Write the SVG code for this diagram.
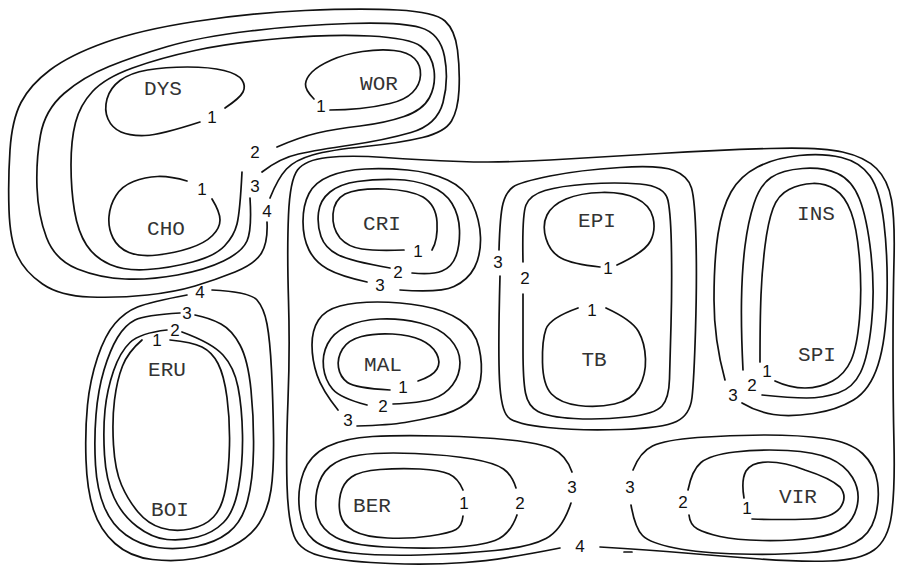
<svg xmlns="http://www.w3.org/2000/svg" width="899" height="566" viewBox="0 0 899 566">
<style>
.c{fill:none;stroke:#111;stroke-width:1.7;stroke-linecap:round;stroke-linejoin:round}
.n{font-family:"Liberation Mono","DejaVu Sans Mono",monospace;font-size:21px;fill:#333;text-anchor:middle;dominant-baseline:central}
.d{font-family:"Liberation Sans","DejaVu Sans",sans-serif;font-size:17px;fill:#111;text-anchor:middle;dominant-baseline:central}
</style>
<rect width="899" height="566" fill="#fff"/>
<g id="contours">
 <g id="cluster-top-left">
  <path class="c" d="M225,108 Q240,98 243,92 Q246,86 242,80 Q238,74 224,70.5 Q210,67 187.5,67 Q165,67 147.5,70 Q130,73 120,80.5 Q110,88 107,99 Q104,110 108,119 Q112,128 121,132 Q130,136 145,135.5 Q160,135 200,122"/>
  <path class="c" d="M314,99 Q305,90 305.5,84 Q306,78 312,72 Q318,66 331.5,60 Q345,54 362.5,51.5 Q380,49 394,50.5 Q408,52 414.5,58.5 Q421,65 420.5,75 Q420,85 412.5,92.5 Q405,100 390,103.5 Q375,107 360,108.5 Q345,110 330,110"/>
  <path class="c" d="M187,181 Q170,176 157.5,176.5 Q145,177 133.5,181.5 Q122,186 116,195.5 Q110,205 109,216.5 Q108,228 113,238 Q118,248 129,252.5 Q140,257 157.5,255 Q175,253 190,248 Q205,243 212.5,235.5 Q220,228 220,220 Q220,212 212,199"/>
  <path class="c" d="M242,172 Q240,212 237,224 Q234,236 224.5,246 Q215,256 192.5,262 Q170,268 147.5,269.5 Q125,271 110,264.5 Q95,258 86.5,245 Q78,232 74.5,211 Q71,190 71,165 Q71,140 75.5,122.5 Q80,105 92.5,91.5 Q105,78 132.5,68 Q160,58 195,50.5 Q230,43 280,38.5 Q330,34 370,36 Q410,38 421,46.5 Q432,55 434,70 Q436,85 429.5,97.5 Q423,110 404,116.5 Q385,123 360,126 Q335,129 317.5,133 Q300,137 277,147"/>
  <path class="c" d="M250,198 Q252,230 247,241 Q242,252 223.5,261 Q205,270 177.5,275 Q150,280 125,279 Q100,278 77.5,269 Q55,260 46.5,237.5 Q38,215 37,187.5 Q36,160 40.5,135 Q45,110 64,93.5 Q83,77 109,66.5 Q135,56 167.5,46.5 Q200,37 250,31 Q300,25 350,23.5 Q400,22 420,27.5 Q440,33 444.5,56.5 Q449,80 443,102.5 Q437,125 411,132.5 Q385,140 351,145 Q317,150 298.5,154 Q280,158 262,172"/>
  <path class="c" d="M267,222 Q268,242 261.5,253 Q255,264 235,272 Q215,280 195,286 Q175,292 147.5,295 Q120,298 90,297 Q60,296 42.5,284 Q25,272 17.5,256 Q10,240 9,210 Q8,180 10,150 Q12,120 21,102.5 Q30,85 50,70 Q70,55 105,42.5 Q140,30 195,21.5 Q250,13 305,10.5 Q360,8 397.5,10 Q435,12 445,21 Q455,30 457.5,50 Q460,70 459,90 Q458,110 451.5,121 Q445,132 422.5,137.5 Q400,143 365,146.5 Q330,150 312.5,155 Q295,160 286.5,169 Q278,178 270,198"/>
 </g>
 <g id="cluster-eru-boi">
  <path class="c" d="M142,340 Q128,352 122.5,366 Q117,380 114.5,400 Q112,420 113.5,445 Q115,470 121.5,485 Q128,500 138,512 Q148,524 161.5,528 Q175,532 190,529 Q205,526 213.5,517 Q222,508 225.5,489 Q229,470 229.5,445 Q230,420 227,397.5 Q224,375 218,363.5 Q212,352 202,347 Q192,342 170,340"/>
  <path class="c" d="M167,330 Q140,333 130,342.5 Q120,352 113.5,371 Q107,390 105,410 Q103,430 104.5,455 Q106,480 114,497.5 Q122,515 137,526.5 Q152,538 167,539.5 Q182,541 197.5,537 Q213,533 223.5,522.5 Q234,512 238.5,487.5 Q243,463 242.5,435 Q242,407 238,387 Q234,367 223,355 Q212,343 182,332"/>
  <path class="c" d="M180,313 Q145,315 135,320 Q125,325 117.5,337.5 Q110,350 104,370 Q98,390 96,415 Q94,440 95.5,465 Q97,490 104.5,507.5 Q112,525 126,535 Q140,545 157.5,547.5 Q175,550 195,546.5 Q215,543 228.5,532.5 Q242,522 247.5,501 Q253,480 253.5,450 Q254,420 251,390 Q248,360 240,345 Q232,330 221,324 Q210,318 195,315"/>
  <path class="c" d="M212,290 Q250,292 257,300 Q264,308 267,324 Q270,340 271.5,370 Q273,400 273.5,435 Q274,470 271,490 Q268,510 259,523.5 Q250,537 232.5,546 Q215,555 195,558.5 Q175,562 152.5,559.5 Q130,557 115,543.5 Q100,530 93.5,510 Q87,490 86,460 Q85,430 87.5,405 Q90,380 97.5,357.5 Q105,335 115,323.5 Q125,312 137.5,307 Q150,302 187,295"/>
 </g>
 <g id="cluster-main">
  <path class="c" d="M600,547 Q650,550 685,553 Q720,556 760,559 Q800,562 830,561 Q860,560 874,550 Q888,540 891.5,515 Q895,490 894,445 Q893,400 893,350 Q893,300 894,260 Q895,220 891.5,200 Q888,180 876.5,168.5 Q865,157 842.5,152 Q820,147 770,148.5 Q720,150 660,153.5 Q600,157 550,160 Q500,163 460,161.5 Q420,160 385,157.5 Q350,155 327.5,157.5 Q305,160 297.5,170 Q290,180 288.5,215 Q287,250 288.5,300 Q290,350 288,400 Q286,450 287,485 Q288,520 294,536 Q300,552 325,557 Q350,562 390,563.5 Q430,565 465,562.5 Q500,560 560,548"/>
  <path class="c" d="M624,552 L632,552"/>
 </g>
 <g id="cluster-cri">
  <path class="c" d="M404,250 Q375,251 362,249 Q348,247 340,238 Q332,228 333,214 Q334,200 345,194 Q358,188 385,189 Q410,190 423,197 Q436,205 437,222 Q438,240 432,250"/>
  <path class="c" d="M390,268 Q350,261 337.5,254.5 Q325,248 321,236.5 Q317,225 318.5,212.5 Q320,200 330,192 Q340,184 357.5,181.5 Q375,179 395,179.5 Q415,180 430,186 Q445,192 452,203.5 Q459,215 459.5,230 Q460,245 456,256 Q452,267 442,271 Q432,275 412,273"/>
  <path class="c" d="M367,282 Q340,276 327.5,269 Q315,262 309,250 Q303,238 303,221.5 Q303,205 309,193.5 Q315,182 330,176 Q345,170 365,169 Q385,168 407.5,170 Q430,172 447.5,180 Q465,188 472.5,204 Q480,220 480.5,237.5 Q481,255 474.5,267.5 Q468,280 454,286.5 Q440,293 400,290"/>
 </g>
 <g id="cluster-mal">
  <path class="c" d="M390,390 Q355,388 347.5,382.5 Q340,377 338.5,367.5 Q337,358 342.5,349 Q348,340 361.5,336.5 Q375,333 392.5,334 Q410,335 421,340 Q432,345 436.5,353.5 Q441,362 437,369 Q433,376 418,381"/>
  <path class="c" d="M367,405 Q340,398 332.5,389 Q325,380 323.5,367.5 Q322,355 327.5,344 Q333,333 346.5,326.5 Q360,320 380,319 Q400,318 420,323 Q440,328 450,339 Q460,350 460,362.5 Q460,375 452.5,385 Q445,395 432.5,399 Q420,403 393,404"/>
  <path class="c" d="M338,410 Q322,390 317,375 Q312,360 312,345 Q312,330 318.5,320 Q325,310 340,306 Q355,302 377.5,302 Q400,302 422.5,306 Q445,310 460,320 Q475,330 479,347.5 Q483,365 480.5,380 Q478,395 466.5,403.5 Q455,412 437.5,416 Q420,420 405,422.5 Q390,425 357,426"/>
 </g>
 <g id="cluster-epi-tb">
  <path class="c" d="M600,267 Q572,264 561,258 Q550,252 546,238.5 Q542,225 547,215 Q552,205 566,199 Q580,193 601.5,192.5 Q623,192 636.5,198.5 Q650,205 653,217.5 Q656,230 650.5,241 Q645,252 617,265"/>
  <path class="c" d="M578,308 Q550,318 546,329 Q542,340 542.5,362.5 Q543,385 551.5,394 Q560,403 578.5,405.5 Q597,408 614.5,404 Q632,400 639,387.5 Q646,375 645.5,359 Q645,343 638.5,331.5 Q632,320 606,308"/>
  <path class="c" d="M523,262 Q522,215 526,205 Q530,195 545,190.5 Q560,186 587.5,184 Q615,182 640,184 Q665,186 668,200.5 Q671,215 671.5,252.5 Q672,290 671,325 Q670,360 669.5,379 Q669,398 662,406 Q655,414 627.5,417 Q600,420 574,418.5 Q548,417 538,411.5 Q528,406 525.5,393 Q523,380 523,350 Q523,320 523,294"/>
  <path class="c" d="M499,250 Q500,215 503,203.5 Q506,192 513,187 Q520,182 550,176 Q580,170 620,167.5 Q660,165 674,170.5 Q688,176 691.5,188 Q695,200 696,240 Q697,280 695.5,330 Q694,380 692,397.5 Q690,415 676.5,421.5 Q663,428 621.5,429.5 Q580,431 547.5,427.5 Q515,424 508,417 Q501,410 499.5,380 Q498,350 500,276"/>
 </g>
 <g id="cluster-ins-spi">
  <path class="c" d="M760,362 Q760,320 761,295 Q762,270 765,246 Q768,222 773,208.5 Q778,195 789,189.5 Q800,184 812.5,183.5 Q825,183 835,189.5 Q845,196 851,212 Q857,228 859.5,259 Q862,290 859.5,318.5 Q857,347 851,360.5 Q845,374 832.5,381 Q820,388 805,388 Q790,388 775,381"/>
  <path class="c" d="M743,370 Q741,330 741.5,300 Q742,270 745,246 Q748,222 754,203.5 Q760,185 771,177.5 Q782,170 802.5,168.5 Q823,167 837.5,173.5 Q852,180 859.5,199 Q867,218 871,254 Q875,290 871.5,323.5 Q868,357 860.5,372.5 Q853,388 838,393 Q823,398 806.5,398 Q790,398 762,395"/>
  <path class="c" d="M725,380 Q714,340 714,300 Q714,260 718,234 Q722,208 731,192 Q740,176 757.5,167 Q775,158 799,155.5 Q823,153 841.5,157.5 Q860,162 870,176 Q880,190 884,223.5 Q888,257 887,298.5 Q886,340 878,365 Q870,390 853.5,400 Q837,410 813.5,413.5 Q790,417 773.5,414.5 Q757,412 742,403"/>
 </g>
 <g id="cluster-ber">
  <path class="c" d="M463,490 Q458,478 449,474 Q440,470 420,469 Q400,468 380,469.5 Q360,471 351.5,477 Q343,483 340.5,494 Q338,505 340.5,515 Q343,525 354,531 Q365,537 387.5,538 Q410,539 430,536 Q450,533 456,529.5 Q462,526 463,516"/>
  <path class="c" d="M516,488 Q512,475 503.5,469 Q495,463 472.5,459 Q450,455 415,453.5 Q380,452 360,455 Q340,458 330,466.5 Q320,475 317,490 Q314,505 318,517.5 Q322,530 336,537.5 Q350,545 385,547 Q420,549 450,547.5 Q480,546 495,540.5 Q510,535 517,515"/>
  <path class="c" d="M572,472 Q566,455 553,449 Q540,443 510,440 Q480,437 440,436 Q400,435 372.5,436.5 Q345,438 327.5,446.5 Q310,455 303.5,472.5 Q297,490 299.5,510 Q302,530 313.5,540 Q325,550 352.5,553 Q380,556 420,555 Q460,554 495,550.5 Q530,547 546,538.5 Q562,530 571,503"/>
 </g>
 <g id="cluster-vir">
  <path class="c" d="M744,498 Q741,480 746,471 Q752,462 768,462 Q785,462 805,470 Q830,478 840,487 Q848,497 840,508 Q832,518 810,519 Q780,520 752,519"/>
  <path class="c" d="M688,490 Q692,470 701,462.5 Q710,455 735,452 Q760,449 787.5,450.5 Q815,452 830,458.5 Q845,465 852.5,477.5 Q860,490 857.5,504 Q855,518 845,526.5 Q835,535 812.5,538 Q790,541 762.5,540.5 Q735,540 720,536.5 Q705,533 697.5,529 Q690,525 689,515"/>
  <path class="c" d="M633,470 Q640,452 652.5,446 Q665,440 697.5,437.5 Q730,435 765,435 Q800,435 825,438.5 Q850,442 862.5,453.5 Q875,465 877.5,482.5 Q880,500 875,517.5 Q870,535 855,542.5 Q840,550 810,552.5 Q780,555 740,554 Q700,553 675,548 Q650,543 642.5,535.5 Q635,528 631,505"/>
 </g>
</g>
<g id="level-labels">
 <text class="d" x="212" y="117">1</text>
 <text class="d" x="321" y="106">1</text>
 <text class="d" x="202" y="189">1</text>
 <text class="d" x="255" y="152">2</text>
 <text class="d" x="255" y="186">3</text>
 <text class="d" x="267" y="211">4</text>
 <text class="d" x="200" y="292">4</text>
 <text class="d" x="187" y="313">3</text>
 <text class="d" x="175" y="330">2</text>
 <text class="d" x="157" y="340">1</text>
 <text class="d" x="418" y="251">1</text>
 <text class="d" x="398" y="272">2</text>
 <text class="d" x="380" y="285">3</text>
 <text class="d" x="403" y="387">1</text>
 <text class="d" x="383" y="406">2</text>
 <text class="d" x="348" y="420">3</text>
 <text class="d" x="498" y="262">3</text>
 <text class="d" x="525" y="278">2</text>
 <text class="d" x="608" y="268">1</text>
 <text class="d" x="592" y="310">1</text>
 <text class="d" x="767" y="371">1</text>
 <text class="d" x="752" y="385">2</text>
 <text class="d" x="733" y="395">3</text>
 <text class="d" x="464" y="503">1</text>
 <text class="d" x="520" y="503">2</text>
 <text class="d" x="572" y="487">3</text>
 <text class="d" x="630" y="487">3</text>
 <text class="d" x="683" y="502">2</text>
 <text class="d" x="747" y="508">1</text>
 <text class="d" x="580" y="546">4</text>
</g>
<g id="DYS"><text class="n" x="163" y="89">DYS</text></g>
<g id="WOR"><text class="n" x="379" y="84">WOR</text></g>
<g id="CHO"><text class="n" x="166" y="229">CHO</text></g>
<g id="CRI"><text class="n" x="382" y="224">CRI</text></g>
<g id="EPI"><text class="n" x="597" y="221">EPI</text></g>
<g id="TB"><text class="n" x="594" y="360">TB</text></g>
<g id="MAL"><text class="n" x="383" y="365">MAL</text></g>
<g id="INS"><text class="n" x="816" y="214">INS</text></g>
<g id="SPI"><text class="n" x="817" y="355">SPI</text></g>
<g id="ERU"><text class="n" x="167" y="370">ERU</text></g>
<g id="BOI"><text class="n" x="170" y="510">BOI</text></g>
<g id="BER"><text class="n" x="372" y="506">BER</text></g>
<g id="VIR"><text class="n" x="798" y="497">VIR</text></g>
</svg>
